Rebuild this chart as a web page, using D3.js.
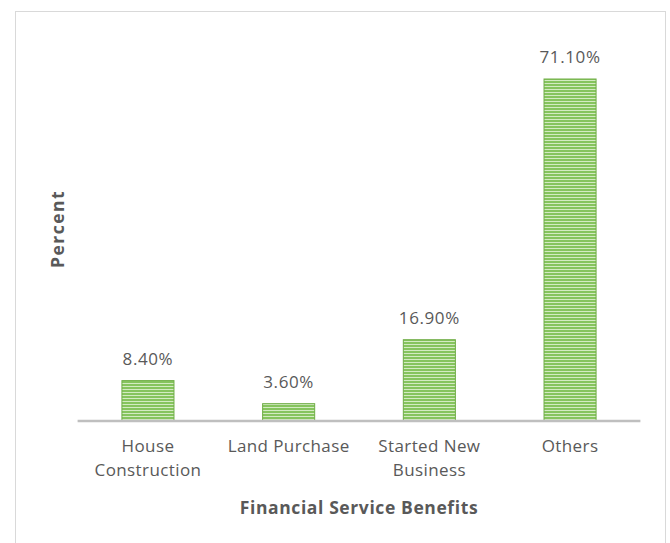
<!DOCTYPE html>
<html>
<head>
<meta charset="utf-8">
<script src="https://cdn.jsdelivr.net/npm/d3@7"></script>
<style>
  html, body { margin: 0; padding: 0; background: #fff; }
  svg { display: block; }
  text { font-family: "Open Sans", Lato, "Liberation Sans", sans-serif; }
</style>
</head>
<body>
<svg id="chart" width="670" height="543"></svg>
<script>
// Uses of financial service benefits (percent of respondents)
const categories = [["House", "Construction"], ["Land Purchase"], ["Started New", "Business"], ["Others"]];
const values = [8.4, 3.6, 16.9, 71.1];
const valueLabels = ["8.40%", "3.60%", "16.90%", "71.10%"];
const xTitle = "Financial Service Benefits";
const yTitle = "Percent";

const svg = d3.select("#chart");

// outer chart frame
svg.append("rect")
  .attr("x", 15.5).attr("y", 11.5)
  .attr("width", 650).attr("height", 540)
  .attr("fill", "#fff").attr("stroke", "#d9d9d9").attr("stroke-width", 1);

// striped bar fill
const defs = svg.append("defs");
const pat = defs.append("pattern")
  .attr("id", "stripes").attr("patternUnits", "userSpaceOnUse")
  .attr("width", 6).attr("height", 3);
pat.append("rect").attr("width", 6).attr("height", 3).attr("fill", "#86c45e");
pat.append("rect").attr("y", 2).attr("width", 6).attr("height", 1).attr("fill", "#d3ebc2");

const plot = { left: 77.6, right: 640.4, baseline: 421 };
const x = d3.scaleBand()
  .domain(d3.range(categories.length))
  .range([plot.left, plot.right])
  .paddingInner(0.63).paddingOuter(0.315);
const y = d3.scaleLinear().domain([0, 71.1]).range([plot.baseline, 79]);

// bars
svg.append("g").selectAll("rect")
  .data(values)
  .join("rect")
  .attr("x", (d, i) => x(i))
  .attr("y", d => y(d))
  .attr("width", x.bandwidth())
  .attr("height", d => y(0) - y(d))
  .attr("fill", "url(#stripes)")
  .attr("stroke", "#70ad47").attr("stroke-width", 1);

// value labels
svg.append("g").selectAll("text")
  .data(values)
  .join("text")
  .attr("x", (d, i) => x(i) + x.bandwidth() / 2)
  .attr("y", d => y(d) - 16)
  .attr("text-anchor", "middle")
  .attr("font-size", 17)
  .attr("letter-spacing", 0.6)
  .attr("fill", "#595959")
  .text((d, i) => valueLabels[i]);

// category axis
const xAxis = d3.axisBottom(x).tickSize(0).tickFormat("");
const ax = svg.append("g").attr("transform", `translate(0,${plot.baseline})`).call(xAxis);
ax.select(".domain").attr("stroke", "#bfbfbf").attr("stroke-width", 2.5)
  .attr("d", `M${plot.left},0H${plot.right}`);

ax.selectAll(".tick").each(function(i) {
  const t = d3.select(this).append("text")
    .attr("text-anchor", "middle")
    .attr("font-size", 17)
    .attr("letter-spacing", 0.4)
    .attr("fill", "#595959");
  categories[i].forEach((line, k) => {
    t.append("tspan").attr("x", 0).attr("y", 31 + k * 24).text(line);
  });
});

// axis titles
svg.append("text")
  .attr("x", (plot.left + plot.right) / 2).attr("y", 514)
  .attr("text-anchor", "middle")
  .attr("font-size", 17.5).attr("font-weight", "bold")
  .attr("letter-spacing", 0.6)
  .attr("fill", "#595959")
  .text(xTitle);

svg.append("text")
  .attr("transform", "translate(64,229) rotate(-90)")
  .attr("text-anchor", "middle")
  .attr("font-size", 17.5).attr("font-weight", "bold")
  .attr("letter-spacing", 1.5)
  .attr("fill", "#595959")
  .text(yTitle);
</script>
</body>
</html>
